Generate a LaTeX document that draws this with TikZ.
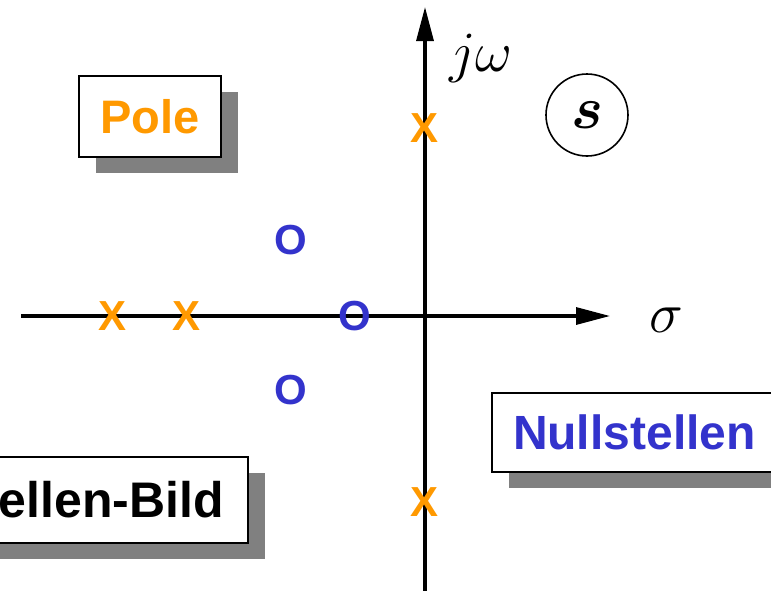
\RequirePackage{fix-cm}
\documentclass[tikz,border=0pt]{standalone}
\usepackage{bm}
\usepackage{fontspec}
\setmainfont{Liberation Sans}
\usetikzlibrary{arrows.meta,shadows}
\definecolor{poleorange}{HTML}{FF9900}
\definecolor{zeroblue}{HTML}{3333CC}
\definecolor{shadowgray}{HTML}{808080}
\tikzset{
  axisline/.style={line width=3.2pt, -{Triangle[length=34pt,width=17pt]}},
  labelbox/.style={draw, line width=2pt, fill=white, inner sep=0pt,
    font=\fontsize{47}{50}\selectfont\bfseries,
    drop shadow={shadow xshift=17pt, shadow yshift=-16pt, fill=shadowgray, opacity=1}},
  polemark/.style={text=poleorange, font=\fontsize{42}{44}\selectfont\bfseries, inner sep=0pt},
  zeromark/.style={text=zeroblue, font=\fontsize{42}{44}\selectfont\bfseries, inner sep=0pt},
  mathlabel/.style={inner sep=0pt, font=\fontsize{57}{60}\selectfont},
}
\begin{document}
\begin{tikzpicture}[x=1pt,y=-1pt]
\useasboundingbox (0,0) rectangle (771,590);
\clip (0,0) rectangle (771,590);
% axes
\coordinate (xstart) at (21,316);
\coordinate (xend) at (610,316);
\coordinate (ystart) at (425,600);
\coordinate (yend) at (425,7);
\draw[axisline] (xstart) -- (xend);
\draw[axisline] (ystart) -- (yend);
% axis labels
\node[mathlabel] (jw) at (481,58) {$j\omega$};
\node[mathlabel] (sigma) at (666,320) {$\sigma$};
\node[draw, circle, line width=1.6pt, minimum size=82pt, inner sep=0pt,
  font=\fontsize{60}{64}\selectfont] (splane) at (587,115) {$\bm{s}$};
% label boxes
\node[labelbox, text=poleorange, minimum width=142pt, minimum height=81pt] (pole) at (150,116.5) {Pole};
\node[labelbox, text=zeroblue, anchor=west, minimum height=79pt, text width=320pt, inner xsep=21pt, align=left, font=\fontsize{48}{50}\selectfont\bfseries] (null) at (491,432.5) {Nullstellen};
\node[labelbox, text=black, anchor=east, minimum height=86pt, text width=300pt, inner xsep=24pt, align=right, font=\fontsize{50}{52}\selectfont\bfseries] (bild) at (249,500) {ellen-Bild};
% poles
\node[polemark] (p1) at (113,316) {X};
\node[polemark] (p2) at (187,316) {X};
\node[polemark] (p3) at (425,128) {X};
\node[polemark] (p4) at (425,502) {X};
% zeros
\node[zeromark] (z1) at (291,240) {O};
\node[zeromark] (z2) at (355,316) {O};
\node[zeromark] (z3) at (291,390) {O};
\end{tikzpicture}
\end{document}
